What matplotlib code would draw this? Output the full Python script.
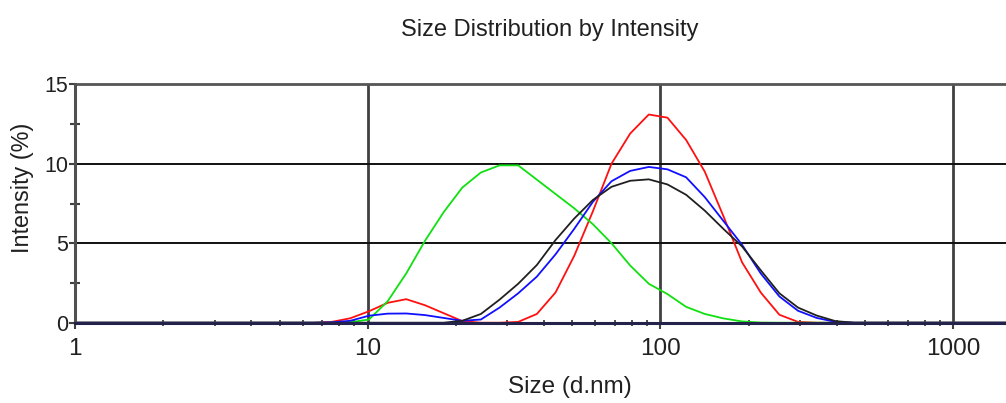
import matplotlib
matplotlib.use('Agg')

import matplotlib.pyplot as plt
from matplotlib.ticker import FixedLocator, FixedFormatter, NullFormatter

plt.rcParams['font.family'] = ['Liberation Sans', 'DejaVu Sans']

# size bins (d.nm)
sizes = [0.8332, 0.9649, 1.117, 1.294, 1.499, 1.736, 2.010, 2.328, 2.696, 3.122,
         3.615, 4.187, 4.849, 5.615, 6.503, 7.531, 8.721, 10.10, 11.70, 13.54,
         15.69, 18.17, 21.04, 24.36, 28.21, 32.67, 37.84, 43.82, 50.75, 58.77,
         68.06, 78.82, 91.28, 105.7, 122.4, 141.8, 164.2, 190.1, 220.2, 255.0,
         295.3, 342.0, 396.1, 458.7, 531.2, 615.1, 712.4, 825.0, 955.4, 1106,
         1281, 1484, 1718]

# intensity (%) per bin
red = [0, 0, 0, 0, 0, 0, 0, 0, 0, 0,
       0, 0, 0, 0, 0, 0.05, 0.28, 0.72, 1.25, 1.48,
       1.1, 0.6, 0.1, 0, 0, 0.05, 0.55, 1.9, 4.2, 7.0,
       10.0, 11.9, 13.1, 12.9, 11.5, 9.5, 6.7, 3.8, 1.9, 0.5,
       0.05, 0, 0, 0, 0, 0, 0, 0, 0, 0,
       0, 0, 0]
green = [0, 0, 0, 0, 0, 0, 0, 0, 0, 0,
         0, 0, 0, 0, 0, 0, 0.03, 0.2, 1.35, 3.1,
         5.15, 6.95, 8.5, 9.45, 9.9, 9.9, 9.0, 8.1, 7.2, 6.2,
         5.0, 3.6, 2.45, 1.8, 1.0, 0.55, 0.27, 0.08, 0.01, 0,
         0, 0, 0, 0, 0, 0, 0, 0, 0, 0,
         0, 0, 0]
blue = [0, 0, 0, 0, 0, 0, 0, 0, 0, 0,
        0, 0, 0, 0, 0, 0.02, 0.12, 0.44, 0.57, 0.58,
        0.48, 0.3, 0.12, 0.2, 0.95, 1.85, 2.9, 4.3, 5.9, 7.6,
        8.9, 9.55, 9.8, 9.65, 9.15, 7.9, 6.4, 4.9, 3.1, 1.65,
        0.75, 0.3, 0.05, 0, 0, 0, 0, 0, 0, 0,
        0, 0, 0]
black = [0, 0, 0, 0, 0, 0, 0, 0, 0, 0,
         0, 0, 0, 0, 0, 0, 0, 0, 0, 0,
         0, 0, 0.12, 0.55, 1.45, 2.45, 3.63, 5.2, 6.55, 7.72,
         8.55, 8.93, 9.02, 8.7, 8.05, 7.05, 5.9, 4.8, 3.3, 1.85,
         0.95, 0.45, 0.1, 0, 0, 0, 0, 0, 0, 0,
         0, 0, 0]

x_ticks = [1, 10, 100, 1000]
x_labels = ['1', '10', '100', '1000']
y_ticks = [0, 5, 10, 15]
y_minor = [2.5, 7.5, 12.5]

fig = plt.figure(figsize=(10.06, 4.03), dpi=100)
# axes runs past the right edge of the picture, like the original
ax = fig.add_axes([75 / 1006, 80.3 / 403, 1170.8 / 1006, 238.4 / 403])

ax.plot(sizes, red, color='#ff1010', lw=1.3, zorder=3)
ax.plot(sizes, green, color='#10e010', lw=1.3, zorder=3)
ax.plot(sizes, blue, color='#1010ff', lw=1.3, zorder=3)
ax.plot(sizes, black, color='#202020', lw=1.3, zorder=3)

ax.set_xscale('log')
ax.set_xlim(1, 10000)
ax.set_ylim(0, 15)

ax.xaxis.set_major_locator(FixedLocator(x_ticks))
ax.xaxis.set_major_formatter(FixedFormatter(x_labels))
minor_x = [m * d for d in [1, 10, 100, 1000] for m in range(2, 10)]
ax.xaxis.set_minor_locator(FixedLocator(minor_x))
ax.xaxis.set_minor_formatter(NullFormatter())
ax.yaxis.set_major_locator(FixedLocator(y_ticks))
ax.yaxis.set_minor_locator(FixedLocator(y_minor))

ax.spines['right'].set_visible(False)
ax.spines['top'].set_color('#555555')
ax.spines['top'].set_linewidth(2.0)
ax.spines['left'].set_color('#505050')
ax.spines['left'].set_linewidth(2.2)
ax.spines['bottom'].set_color('#22224a')
ax.spines['bottom'].set_linewidth(2.2)
ax.spines['left'].set_zorder(4)
ax.spines['bottom'].set_zorder(4)

ax.grid(which='major', axis='y', color='#101010', lw=1.4)
ax.grid(which='major', axis='x', color='#404040', lw=2.0)
ax.set_axisbelow(True)

ax.tick_params(axis='x', which='major', direction='out', length=4, width=1.5,
               color='#404040', labelsize=17.5, pad=7, labelcolor='#202020')
ax.tick_params(axis='x', which='minor', direction='inout', length=5, width=1.2,
               color='#303030')
ax.tick_params(axis='y', which='major', direction='out', length=4, width=1.5,
               color='#404040', labelsize=15.5, pad=1, labelcolor='#202020')
ax.tick_params(axis='y', which='minor', direction='inout', length=7, width=1.5,
               color='#404040')

fig.text(550 / 1006, 1 - 30 / 403, 'Size Distribution by Intensity',
         ha='center', va='center', fontsize=17, color='#202020')
fig.text(570 / 1006, 1 - 387 / 403, 'Size (d.nm)',
         ha='center', va='center', fontsize=17.5, color='#202020')
fig.text(23 / 1006, 1 - 188 / 403, 'Intensity (%)', rotation=90,
         ha='center', va='center', fontsize=16.8, color='#202020')

fig.savefig('out.png', dpi=100)
